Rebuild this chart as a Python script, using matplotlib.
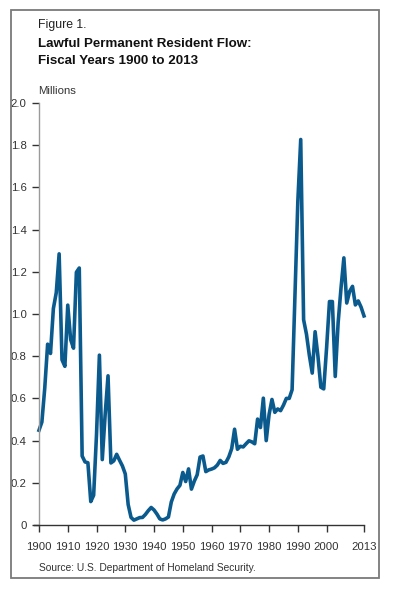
import matplotlib
matplotlib.use("Agg")
import matplotlib.pyplot as plt
from matplotlib.patches import Rectangle

# Lawful permanent residents per fiscal year, in millions
years = list(range(1900, 2014))
lpr = [
    0.449, 0.488, 0.649, 0.857, 0.813, 1.026, 1.101, 1.285, 0.783, 0.752,  # 1900s
    1.042, 0.879, 0.838, 1.198, 1.218, 0.327, 0.299, 0.295, 0.111, 0.141,  # 1910s
    0.430, 0.805, 0.310, 0.523, 0.707, 0.294, 0.304, 0.335, 0.307, 0.280,  # 1920s
    0.242, 0.097, 0.036, 0.023, 0.029, 0.035, 0.036, 0.050, 0.068, 0.083,  # 1930s
    0.071, 0.052, 0.029, 0.024, 0.029, 0.038, 0.109, 0.147, 0.171, 0.188,  # 1940s
    0.249, 0.206, 0.266, 0.170, 0.208, 0.238, 0.322, 0.327, 0.253, 0.261,  # 1950s
    0.265, 0.271, 0.284, 0.306, 0.292, 0.297, 0.323, 0.362, 0.454, 0.359,  # 1960s
    0.373, 0.370, 0.385, 0.399, 0.394, 0.385, 0.502, 0.462, 0.601, 0.400,  # 1970s
    0.524, 0.595, 0.534, 0.550, 0.542, 0.568, 0.600, 0.600, 0.641, 1.090,  # 1980s
    1.536, 1.827, 0.973, 0.904, 0.804, 0.720, 0.916, 0.798, 0.653, 0.645,  # 1990s
    0.841, 1.059, 1.059, 0.704, 0.958, 1.122, 1.266, 1.052, 1.107, 1.131,  # 2000s
    1.043, 1.062, 1.032, 0.991,                                            # 2010-2013
]
xticks = [1900, 1910, 1920, 1930, 1940, 1950, 1960, 1970, 1980, 1990, 2000, 2013]
yticks = [0, 0.2, 0.4, 0.6, 0.8, 1.0, 1.2, 1.4, 1.6, 1.8, 2.0]
ylabels = ["0"] + [f"{v:.1f}" for v in yticks[1:]]

plt.rcParams["font.family"] = ["Liberation Sans", "DejaVu Sans"]

fig = plt.figure(figsize=(3.95, 5.90), dpi=100)

# outer frame
fig.patches.append(Rectangle((11 / 395, 1 - 578 / 590), 368 / 395, 568 / 590,
                             transform=fig.transFigure, fill=False,
                             edgecolor="#7a7a7a", linewidth=1.3))

ax = fig.add_axes([39 / 395, 1 - 525 / 590, 325 / 395, 422 / 590])
ax.plot(years, lpr, color="#0b5a8e", linewidth=2.6, solid_joinstyle="round",
        clip_on=False)

ax.set_xlim(1900, 2013)
ax.set_ylim(0, 2.0)
ax.set_xticks(xticks)
ax.set_xticklabels([str(x) for x in xticks])
ax.set_yticks(yticks)
ax.set_yticklabels(ylabels)

for s in ["top", "right"]:
    ax.spines[s].set_visible(False)
ax.spines["left"].set_color("#9a9a9a")
ax.spines["left"].set_linewidth(1.0)
ax.spines["bottom"].set_color("#333333")
ax.spines["bottom"].set_linewidth(1.0)
ax.spines["bottom"].set_bounds(1898.3, 2013)

ax.tick_params(axis="both", direction="out", length=5, width=1.0,
               color="#333333", labelsize=8.2, labelcolor="#333333", pad=4)
ax.tick_params(axis="x", pad=7)

fig.text(38 / 395, 1 - 25 / 590, "Figure 1.", fontsize=8.8, color="#222222",
         va="center")
fig.text(38 / 395, 1 - 44 / 590, "Lawful Permanent Resident Flow:",
         fontsize=9.6, fontweight="bold", color="#111111", va="center")
fig.text(38 / 395, 1 - 61 / 590, "Fiscal Years 1900 to 2013",
         fontsize=9.6, fontweight="bold", color="#111111", va="center")
fig.text(38 / 395, 1 - 91 / 590, "Millions", fontsize=8.2, color="#333333",
         va="center")
fig.text(39 / 395, 1 - 568 / 590, "Source: U.S. Department of Homeland Security.",
         fontsize=7.4, color="#333333", va="center")

fig.savefig("out.png", dpi=100)
